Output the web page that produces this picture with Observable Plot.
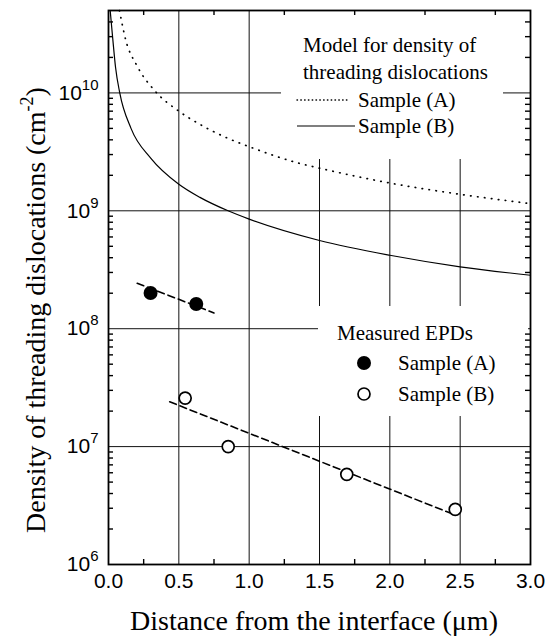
<!DOCTYPE html>
<html><head><meta charset="utf-8">
<script src="https://cdn.jsdelivr.net/npm/d3@7"></script>
<script src="https://cdn.jsdelivr.net/npm/@observablehq/plot@0.6"></script>
<style>
html,body{margin:0;padding:0;background:#fff;}
#chart svg{display:block;}
</style>
</head><body><div id="chart"></div>
<script>
// ---- data ----
const modelA_x = [0.078, 0.123, 0.2, 0.33, 0.5, 0.663, 0.853, 1.0, 1.345, 1.5, 2.0, 2.5, 3.0];
const modelA_y = [5e10, 2.8e10, 1.72e10, 1.04e10, 7.0e9, 5.3e9, 4.1e9, 3.5e9, 2.55e9, 2.3e9, 1.72e9, 1.38e9, 1.15e9];
const modelB_x = [0.012, 0.03, 0.05, 0.08, 0.16, 0.3, 0.5, 0.65, 0.85, 1.0, 1.5, 2.0, 2.5, 3.0];
const modelB_y = [5e10, 2.9e10, 1.65e10, 1.0e10, 5.0e9, 2.8e9, 1.68e9, 1.3e9, 1.0e9, 8.5e8, 5.6e8, 4.2e8, 3.35e8, 2.84e8];
const fitA_x = [0.204, 0.75];
const fitA_y = [2.43e8, 1.36e8];
const fitB_x = [0.435, 2.443];
const fitB_y = [2.4e7, 2.69e6];
const epdA_x = [0.299, 0.624];
const epdA_y = [2.01e8, 1.62e8];
const epdB_x = [0.545, 0.851, 1.694, 2.465];
const epdB_y = [2.58e7, 1.0e7, 5.82e6, 2.93e6];
const xTickValues = [0, 0.5, 1.0, 1.5, 2.0, 2.5, 3.0];
const xMinorTicks = [0.25, 0.75, 1.25, 1.75, 2.25, 2.75];
const xGridValues = [0.5, 1.0, 1.5, 2.0, 2.5];
const yTickValues = [1e6, 1e7, 1e8, 1e9, 1e10];
const yGridValues = [1e7, 1e8, 1e9, 1e10];
const xLabel = "Distance from the interface (\u03bcm)";
const yLabelMain = "Density of threading dislocations (cm";
const yLabelSup = "-2";
const legendTopTitle = ["Model for density of", "threading dislocations"];
const legendTopItems = ["Sample (A)", "Sample (B)"];
const legendBottomTitle = "Measured EPDs";
const legendBottomItems = ["Sample (A)", "Sample (B)"];

const zip = (xs, ys) => xs.map((x, i) => ({x, y: ys[i]}));
const modelA = zip(modelA_x, modelA_y);
const modelB = zip(modelB_x, modelB_y);
const fitA = zip(fitA_x, fitA_y);
const fitB = zip(fitB_x, fitB_y);
const epdA = zip(epdA_x, epdA_y);
const epdB = zip(epdB_x, epdB_y);
const yMinorTicks = [];
for (let k = 6; k <= 10; k++) for (let m = 2; m <= 9; m++) { const v = m * 10 ** k; if (v < 5e10) yMinorTicks.push(v); }

// ---- layout ----
const W = 555, H = 638, mL = 108, mR = 25, mT = 10, mB = 74;
const innerW = W - mL - mR, innerH = H - mT - mB;
const serif = "'Liberation Serif', 'Times New Roman', serif";
const sans = "'Liberation Sans', Arial, sans-serif";
const legendBoxes = [
  {x: 281, y: 11, w: 222, h: 148},
  {x: 318, y: 306, w: 210, h: 110}
];

const legendBg = () => {
  const g = d3.create("svg:g");
  for (const b of legendBoxes) g.append("rect").attr("x", b.x).attr("y", b.y).attr("width", b.w).attr("height", b.h).attr("fill", "#fff");
  return g.node();
};

const chart = Plot.plot({
  width: W, height: H,
  marginLeft: mL, marginRight: mR, marginTop: mT, marginBottom: mB,
  style: {fontFamily: sans, fontSize: "21px", background: "#fff", color: "#000", overflow: "visible"},
  x: {domain: [0, 3]},
  y: {type: "log", domain: [1e6, 5e10]},
  marks: [
    Plot.ruleX(xGridValues, {x: d => d, stroke: "#111", strokeWidth: 1}),
    Plot.ruleY(yGridValues, {y: d => d, stroke: "#111", strokeWidth: 1}),
    legendBg,
    Plot.line(modelA, {x: "x", y: "y", curve: "monotone-x", stroke: "#000", strokeWidth: 1.7, strokeDasharray: "0.5,6.5", strokeLinecap: "round"}),
    Plot.line(modelB, {x: "x", y: "y", curve: "monotone-x", stroke: "#000", strokeWidth: 1.2}),
    Plot.line(fitA, {x: "x", y: "y", stroke: "#000", strokeWidth: 1.6, strokeDasharray: "7,4"}),
    Plot.line(fitB, {x: "x", y: "y", stroke: "#000", strokeWidth: 1.6, strokeDasharray: "7,4"}),
    Plot.dot(epdA, {x: "x", y: "y", r: 7, fill: "#000", stroke: "none"}),
    Plot.dot(epdB, {x: "x", y: "y", r: 6, fill: "#fff", stroke: "#000", strokeWidth: 1.7}),
    Plot.frame({stroke: "#000", strokeWidth: 1.8}),
    Plot.tickX(xMinorTicks, {x: d => d, insetTop: innerH - 5, stroke: "#000", strokeWidth: 1.4}),
    Plot.tickX(xMinorTicks, {x: d => d, insetBottom: innerH - 5, stroke: "#000", strokeWidth: 1.4}),
    Plot.tickY(yMinorTicks, {y: d => d, insetRight: innerW - 5, stroke: "#000", strokeWidth: 1.4}),
    Plot.tickY(yMinorTicks, {y: d => d, insetLeft: innerW - 5, stroke: "#000", strokeWidth: 1.4}),
    Plot.axisX(xTickValues, {tickSize: 0, tickPadding: 9, tickFormat: d3.format(".1f"), label: null}),
    Plot.axisY(yTickValues, {tickSize: 0, tickPadding: 10, tickFormat: d => String(Math.round(Math.log10(d))), label: null})
  ]
});

const svg = d3.select(chart);
// superscript tick labels 10^n
svg.selectAll('g[aria-label="y-axis tick label"] text').each(function() {
  const t = d3.select(this);
  const e = this.textContent;
  t.text(null);
  t.append("tspan").text("10");
  t.append("tspan").attr("font-size", "15px").attr("dy", "-10").text(e);
});

// axis titles
svg.append("text")
  .attr("x", 314).attr("y", 630)
  .attr("text-anchor", "middle")
  .attr("font-family", serif).attr("font-size", "28px").attr("fill", "#000")
  .text(xLabel);
const yl = svg.append("text")
  .attr("transform", "translate(45,310) rotate(-90)")
  .attr("text-anchor", "middle")
  .attr("font-family", serif).attr("font-size", "28px").attr("fill", "#000");
yl.append("tspan").text(yLabelMain);
yl.append("tspan").attr("font-size", "18px").attr("dy", "-12").text(yLabelSup);
yl.append("tspan").attr("dy", "12").text(")");

// top legend
const lg = svg.append("g").attr("font-family", serif).attr("font-size", "21px").attr("fill", "#000").attr("text-anchor", "start");
const topRows = [45, 72, 100, 126];
lg.append("text").attr("x", 303).attr("y", topRows[0]).attr("dy", "0.35em").attr("text-anchor", "start").text(legendTopTitle[0]);
lg.append("text").attr("x", 303).attr("y", topRows[1]).attr("dy", "0.35em").attr("text-anchor", "start").text(legendTopTitle[1]);
lg.append("line").attr("x1", 297).attr("x2", 347).attr("y1", topRows[2]).attr("y2", topRows[2])
  .attr("stroke", "#000").attr("stroke-width", 1.4).attr("stroke-dasharray", "0.5,3.3").attr("stroke-linecap", "round");
lg.append("text").attr("x", 358).attr("y", topRows[2]).attr("dy", "0.35em").attr("text-anchor", "start").text(legendTopItems[0]);
lg.append("line").attr("x1", 297).attr("x2", 355).attr("y1", topRows[3]).attr("y2", topRows[3])
  .attr("stroke", "#000").attr("stroke-width", 1.2);
lg.append("text").attr("x", 358).attr("y", topRows[3]).attr("dy", "0.35em").attr("text-anchor", "start").text(legendTopItems[1]);

// bottom legend
const botRows = [333, 363, 394];
lg.append("text").attr("x", 337).attr("y", botRows[0]).attr("dy", "0.35em").attr("text-anchor", "start").text(legendBottomTitle);
lg.append("circle").attr("cx", 364).attr("cy", botRows[1]).attr("r", 7).attr("fill", "#000");
lg.append("text").attr("x", 398).attr("y", botRows[1]).attr("dy", "0.35em").attr("text-anchor", "start").text(legendBottomItems[0]);
lg.append("circle").attr("cx", 364).attr("cy", botRows[2]).attr("r", 6).attr("fill", "#fff").attr("stroke", "#000").attr("stroke-width", 1.7);
lg.append("text").attr("x", 398).attr("y", botRows[2]).attr("dy", "0.35em").attr("text-anchor", "start").text(legendBottomItems[1]);

document.getElementById("chart").appendChild(chart);
</script>
</body></html>
